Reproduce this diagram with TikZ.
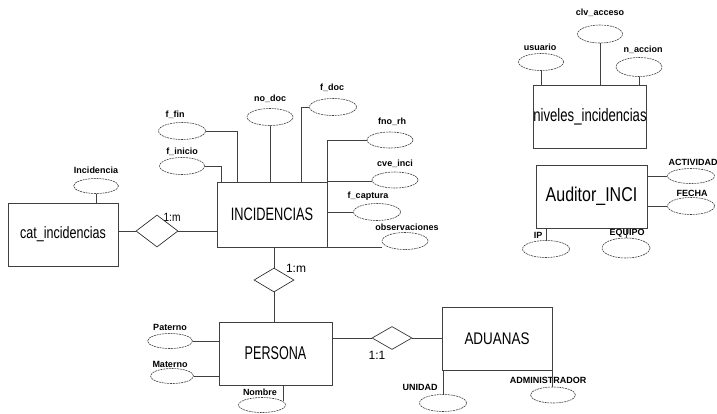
\documentclass[tikz,border=0pt]{standalone}
\usepackage{fontspec}
\usepackage{graphicx}
\setmainfont{Liberation Sans}
\usetikzlibrary{shapes.geometric}
\newcommand{\enttxt}[3]{\scalebox{#1}[1]{\fontsize{#2}{#2}\selectfont #3}}
\begin{document}
\begin{tikzpicture}[x=1pt,y=-1pt,
  ent/.style={draw=black!75, line width=0.65pt, rectangle, inner sep=0pt},
  att/.style={draw=black!75, dash pattern=on 2pt off 0.8pt, line width=0.6pt, ellipse, inner sep=0pt, minimum width=46pt, minimum height=17pt},
  rel/.style={draw=black!85, line width=0.65pt, diamond, inner sep=0pt},
  lab/.style={inner sep=0pt, font=\fontsize{9}{9}\selectfont\bfseries},
  con/.style={draw=black!75, line width=0.65pt},
  card/.style={inner sep=0pt}]
\useasboundingbox (0,0) rectangle (717,413);

% entities
\node[ent, minimum width=110pt, minimum height=63pt] (cat) at (63,234.5) {\enttxt{0.76}{16.5}{cat\_incidencias}};
\node[ent, minimum width=110pt, minimum height=65pt] (inc) at (272,214.5) {\enttxt{0.71}{18}{INCIDENCIAS}};
\node[ent, minimum width=113pt, minimum height=63pt] (per) at (275.5,353.5) {\enttxt{0.68}{18.5}{PERSONA}};
\node[ent, minimum width=110pt, minimum height=63pt] (adu) at (497,338.5) {\enttxt{0.8}{16.8}{ADUANAS}};
\node[ent, minimum width=110pt, minimum height=63pt] (niv) at (590,116.5) {\enttxt{0.73}{18}{niveles\_incidencias}};
\node[ent, minimum width=111pt, minimum height=63pt] (aud) at (591.5,196.5) {\enttxt{0.8}{20}{Auditor\_INCI}};

% relationships
\node[rel, minimum width=42pt, minimum height=32pt] (d1) at (157,231) {};
\node[rel, minimum width=40pt, minimum height=24pt] (d2) at (274,280) {};
\node[rel, minimum width=40pt, minimum height=23pt] (d3) at (392,338) {};
\node[card] (c1) at (172,217) {\enttxt{0.85}{12}{1:m}};
\node[card] (c2) at (296,268) {\enttxt{1}{12}{1:m}};
\node[card] (c3) at (377,355) {\enttxt{1}{12}{1:1}};

% attributes
\node[att, minimum width=45pt, minimum height=15pt] (eincid) at (96,186) {};
\node[att, minimum width=47pt] (effin) at (182,131) {};
\node[att, minimum width=45pt] (efini) at (182,166) {};
\node[att] (enodoc) at (270,117) {};
\node[att, minimum width=47pt] (efdoc) at (333,107) {};
\node[att, minimum height=16pt] (efnorh) at (390,140) {};
\node[att, minimum height=16pt] (ecve) at (395,180) {};
\node[att, minimum width=47pt] (efcap) at (377,212) {};
\node[att] (eobs) at (405,241) {};
\node[att, minimum width=45pt, minimum height=15pt] (epat) at (170,341) {};
\node[att, minimum width=43pt, minimum height=15pt] (emat) at (172,376) {};
\node[att, minimum width=47pt, minimum height=15pt] (enom) at (262,405) {};
\node[att, minimum width=47pt] (euni) at (443,403) {};
\node[att, minimum width=45pt, minimum height=16pt] (eadm) at (553,395) {};
\node[att, minimum width=45pt] (eusu) at (541,62) {};
\node[att, minimum width=45pt, minimum height=18pt] (eclv) at (600,34) {};
\node[att, minimum height=19pt] (enac) at (639,67) {};
\node[att, minimum width=47pt, minimum height=15pt] (eact) at (691,176) {};
\node[att, minimum width=47pt] (efec) at (691,206) {};
\node[att, minimum width=47pt] (eip) at (546,249) {};
\node[att, minimum width=48pt, minimum height=20pt] (eequ) at (626,248) {};

% attribute labels
\node[lab] (lincid) at (96,170) {Incidencia};
\node[lab] (lffin) at (175,115) {f\_fin};
\node[lab] (lfini) at (182,152) {f\_inicio};
\node[lab] (lnodoc) at (270,99) {no\_doc};
\node[lab] (lfdoc) at (332,88) {f\_doc};
\node[lab] (lfnorh) at (392,122) {fno\_rh};
\node[lab] (lcve) at (395,164) {cve\_inci};
\node[lab] (lfcap) at (368,196) {f\_captura};
\node[lab] (lobs) at (407,227) {observaciones};
\node[lab] (lpat) at (170,327) {Paterno};
\node[lab] (lmat) at (170,364) {Materno};
\node[lab] (lnom) at (260,392) {Nombre};
\node[lab] (luni) at (420,387) {UNIDAD};
\node[lab] (ladm) at (548,380) {ADMINISTRADOR};
\node[lab] (lusu) at (540,47) {usuario};
\node[lab] (lclv) at (600,13) {clv\_acceso};
\node[lab] (lnac) at (643,50) {n\_accion};
\node[lab] (lact) at (693,162) {ACTIVIDAD};
\node[lab] (lfec) at (692,193) {FECHA};
\node[lab] (lip) at (538,235) {IP};
\node[lab] (lequ) at (627,233) {EQUIPO};

% connectors: relationships
\draw[con] (d1.west) -- (d1.west -| cat.east);
\draw[con] (d1.east) -- (d1.east -| inc.west);
\draw[con] (d2.north) -- (d2.north |- inc.south);
\draw[con] (d2.south) -- (d2.south |- per.north);
\draw[con] (d3.west) -- (d3.west -| per.east);
\draw[con] (d3.east) -- (d3.east -| adu.west);

% connectors: attributes
\draw[con] (eincid.south) -- (eincid.south |- cat.north);
\draw[con] (effin.east) -| ([xshift=21pt]inc.north west);
\draw[con] (efini.east) -| ([xshift=5pt]inc.north west);
\draw[con] (enodoc.south) -- (enodoc.south |- inc.north);
\draw[con] (efdoc.west) -| ([xshift=85pt]inc.north west);
\draw[con] (efnorh.west) -| (inc.north east);
\draw[con] (inc.north east) -- (inc.north east -| ecve.west);
\draw[con] (efcap.west) -- (efcap.west -| inc.east);
\draw[con] (inc.south east) -- (inc.south east -| eobs.west);
\draw[con] (epat.east) -- (epat.east -| per.west);
\draw[con] (emat.east) -- (emat.east -| per.west);
\draw[con] (enom.10) -- (enom.10 |- per.south);
\draw[con] (euni.north) -- (euni.north |- adu.south);
\draw[con] (adu.south east) -- (adu.south east |- eadm.north);
\draw[con] (eusu.south) -- (eusu.south |- niv.north);
\draw[con] (eclv.south) -- (eclv.south |- niv.north);
\draw[con] (enac.south) -- (enac.south |- niv.north);
\draw[con] (eact.west) -- (eact.west -| aud.east);
\draw[con] (efec.west) -- (efec.west -| aud.east);
\draw[con] (eip.north) -- (eip.north |- aud.south);
\draw[con] (eequ.north) -- (eequ.north |- aud.south);
\end{tikzpicture}
\end{document}
